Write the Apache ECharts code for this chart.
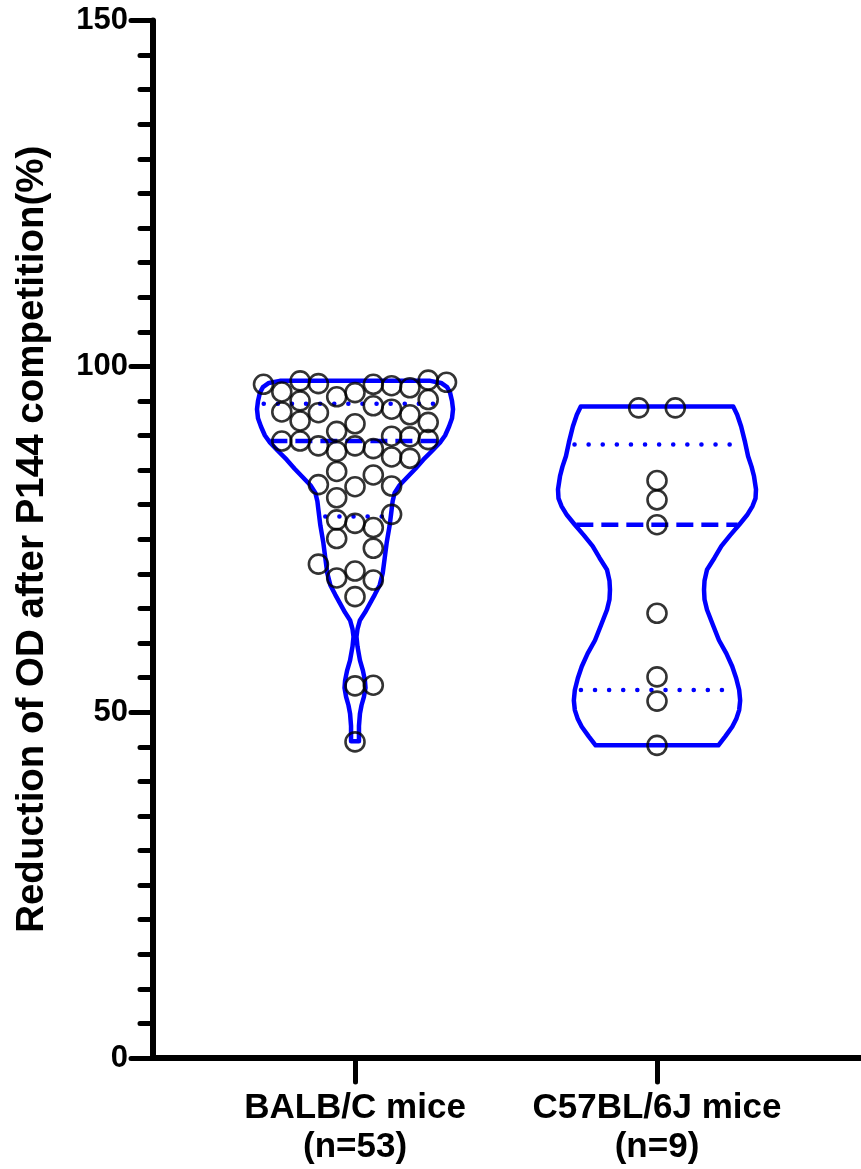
<!DOCTYPE html>
<html><head><meta charset="utf-8">
<script src="https://cdn.jsdelivr.net/npm/echarts@6/dist/echarts.min.js"></script>
<style>html,body{margin:0;padding:0;background:#fff}#c{width:861px;height:1169px}</style>
</head><body><div id="c"></div>
<script>
// ---------- data ----------
const categories = ['BALB/C mice\n(n=53)', 'C57BL/6J mice\n(n=9)'];
const yAxisTitle = 'Reduction of OD after P144 competition(%)';

const balbValues = [97.4, 97.9, 97.5, 97.4, 97.2, 96.9, 98.0, 97.7, 96.3, 96.2,
  95.6, 95.0, 95.2, 93.4, 94.3, 93.8, 93.3, 93.0, 92.1, 91.9,
  91.7, 90.6, 89.9, 89.8, 89.4, 89.2, 89.2, 88.5, 88.5, 88.1,
  87.7, 86.9, 86.7, 84.8, 84.3, 82.9, 82.6, 82.7, 81.0, 78.6,
  77.8, 77.3, 76.7, 75.1, 73.7, 71.4, 70.4, 69.4, 69.1, 66.7,
  53.8, 53.9, 45.7];
// beeswarm column of each BALB/C point (0 = centre)
const balbLanes = [-5, -3, -2, 1, 2, 3, 4, 5, -4, 0,
  -1, -3, 4, -4, 1, 2, -2, 3, -3, 4,
  0, -1, 2, 3, 4, -4, -3, -2, 0, 1,
  -1, 2, 3, -1, 1, -2, 0, 2, -1, 2,
  -1, 0, 1, -1, 1, -2, 0, -1, 1, 0,
  0, 1, 0];

const c57Values = [94.0, 94.0, 83.5, 80.7, 77.1, 64.3, 55.1, 51.6, 45.2];
const c57Lanes = [-1, 1, 0, 0, 0, 0, 0, 0, 0];

// violin outlines: [value, relative density]
const balbViolin = [[97.9,0.76],[97.6,0.87],[97.0,0.93],[96.2,0.96],[95.0,0.98],[93.8,0.99],
  [92.5,0.98],[91.3,0.95],[90.0,0.91],[89.0,0.86],[87.8,0.78],[86.5,0.69],[85.2,0.61],
  [84.0,0.53],[82.8,0.45],[81.7,0.40],[80.5,0.38],[79.3,0.37],[77.0,0.35],[74.5,0.32],
  [72.3,0.30],[70.1,0.28],[68.4,0.25],[67.0,0.20],[65.7,0.15],[64.4,0.10],[63.3,0.05],
  [62.0,0.025],[60.9,0.015],[59.5,0.025],[57.5,0.05],[56.0,0.08],[54.6,0.10],[53.5,0.106],
  [52.2,0.09],[51.0,0.066],[49.8,0.05],[48.0,0.04],[45.8,0.04]];
const c57Violin = [[94.2,0.77],[93.0,0.81],[91.3,0.85],[89.0,0.89],[87.0,0.92],[85.5,0.955],
  [84.1,0.98],[82.2,1.0],[80.9,0.995],[79.8,0.965],[78.5,0.91],[77.1,0.83],[75.6,0.74],
  [74.0,0.65],[72.3,0.58],[70.6,0.505],[69.0,0.48],[67.7,0.475],[66.3,0.48],[64.8,0.505],
  [62.6,0.565],[60.4,0.626],[58.5,0.70],[56.6,0.76],[54.9,0.80],[53.2,0.83],[51.7,0.84],
  [50.3,0.83],[49.0,0.80],[47.9,0.76],[46.5,0.69],[45.2,0.62]];

const medians = [89.2, 77.1];
const lowerQuartiles = [78.3, 53.2];
const upperQuartiles = [94.6, 88.7];

// ---------- drawing ----------
const FONT = '"Liberation Sans", Arial, Helvetica, sans-serif';
const BLUE = '#0000ff';
const LANE = 18.3 / 302;   // one beeswarm column in x-axis units
const HALF = 99 / 302;     // widest violin half-width in x-axis units
const violins = [balbViolin, c57Violin];

function widthAt(profile, v) {
  for (let i = 0; i < profile.length - 1; i++) {
    const a = profile[i], b = profile[i + 1];
    if (v <= a[0] && v >= b[0]) {
      const t = (a[0] - v) / (a[0] - b[0]);
      return a[1] + t * (b[1] - a[1]);
    }
  }
  return 0;
}

function renderViolin(params, api) {
  const idx = params.dataIndex;
  const cx = api.value(0);
  const prof = violins[idx];
  const pts = [];
  prof.forEach(p => pts.push(api.coord([cx + p[1] * HALF, p[0]])));
  for (let i = prof.length - 1; i >= 0; i--) {
    const p = prof[i];
    pts.push(api.coord([cx - p[1] * HALF, p[0]]));
  }
  const children = [{
    type: 'polygon',
    shape: { points: pts },
    style: { fill: 'none', stroke: BLUE, lineWidth: 4.5, lineJoin: 'round' }
  }];
  const mkLine = (v, dash, inset) => {
    const w = widthAt(prof, v) * HALF - inset;
    const a = api.coord([cx - w, v]), b = api.coord([cx + w, v]);
    return {
      type: 'line',
      shape: { x1: a[0], y1: a[1], x2: b[0], y2: b[1] },
      style: { stroke: BLUE, lineWidth: 4.5, lineDash: dash, lineCap: dash[0] < 1 ? 'round' : 'butt' }
    };
  };
  children.push(mkLine(medians[idx], [17, 8], 0.005));
  children.push(mkLine(lowerQuartiles[idx], [0.1, 14], 0.02));
  children.push(mkLine(upperQuartiles[idx], [0.1, 14], 0.02));
  return { type: 'group', children };
}

const chart = echarts.init(document.getElementById('c'), null, { renderer: 'canvas' });
chart.setOption({
  animation: false,
  backgroundColor: '#fff',
  grid: { left: 153, right: 0, top: 20.5, bottom: 111 },
  xAxis: {
    type: 'value', min: 0.3311, max: 2.6755,
    axisLine: { lineStyle: { color: '#000', width: 6 } },
    axisTick: { customValues: [1, 2], length: 24, lineStyle: { color: '#000', width: 5, cap: 'round' } },
    axisLabel: {
      customValues: [1, 2],
      formatter: v => categories[Math.round(v) - 1],
      fontSize: 35, fontWeight: 'bold', color: '#000', lineHeight: 39, margin: 31, fontFamily: FONT
    },
    splitLine: { show: false }
  },
  yAxis: {
    type: 'value', min: 0, max: 150, interval: 50,
    name: yAxisTitle, nameLocation: 'middle', nameGap: 101,
    nameTextStyle: { fontSize: 38.5, fontWeight: 'bold', color: '#000', fontFamily: FONT },
    axisLine: { lineStyle: { color: '#000', width: 6 } },
    axisTick: { length: 22, lineStyle: { color: '#000', width: 5, cap: 'round' } },
    minorTick: { show: true, splitNumber: 10, length: 13, lineStyle: { color: '#000', width: 5, cap: 'round' } },
    axisLabel: { fontSize: 31, fontWeight: 'bold', color: '#000', margin: 25, fontFamily: FONT },
    splitLine: { show: false },
    minorSplitLine: { show: false }
  },
  series: [
    {
      type: 'custom',
      renderItem: renderViolin,
      data: [[1], [2]],
      z: 2,
      silent: true
    },
    {
      type: 'scatter',
      symbol: 'circle', symbolSize: 19,
      itemStyle: { color: 'rgba(0,0,0,0)', borderColor: '#000', borderWidth: 2.6 },
      data: balbValues.map((v, i) => [1 + balbLanes[i] * LANE, v]),
      z: 3
    },
    {
      type: 'scatter',
      symbol: 'circle', symbolSize: 19,
      itemStyle: { color: 'rgba(0,0,0,0)', borderColor: '#000', borderWidth: 2.6 },
      data: c57Values.map((v, i) => [2 + c57Lanes[i] * LANE, v]),
      z: 3
    }
  ]
});
</script>
</body></html>
